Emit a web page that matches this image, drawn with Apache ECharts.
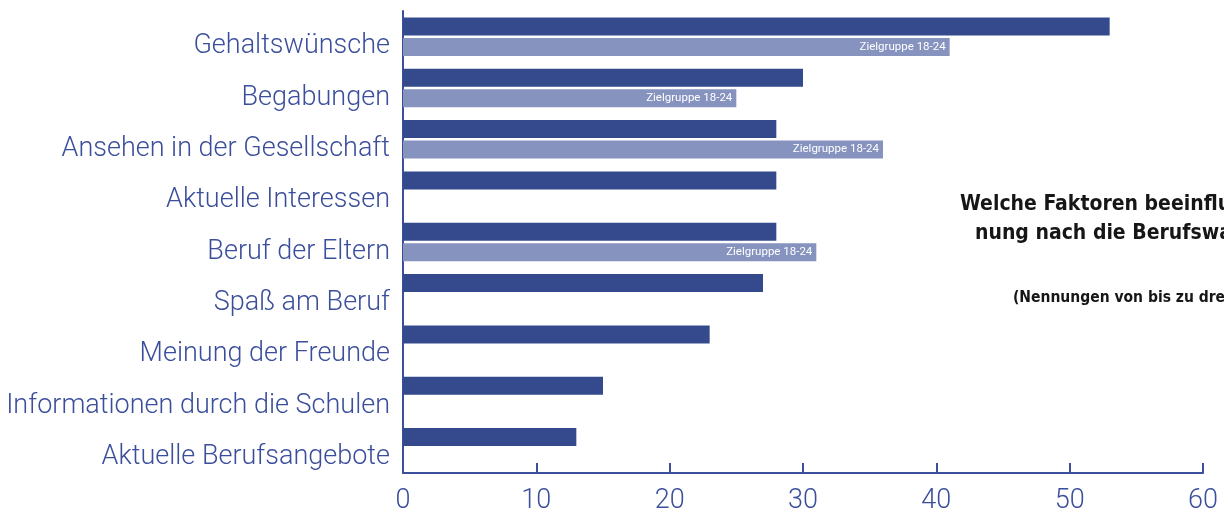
<!DOCTYPE html>
<html>
<head>
<meta charset="utf-8">
<script src="https://cdn.jsdelivr.net/npm/echarts@6/dist/echarts.min.js"></script>
<style>
  html, body { margin: 0; padding: 0; background: #ffffff; }
  #chart { width: 1224px; height: 515px; }
</style>
</head>
<body>
<div id="chart"></div>
<script>
// Faktoren, von oben nach unten
const categories = [
  'Gehaltswünsche',
  'Begabungen',
  'Ansehen in der Gesellschaft',
  'Aktuelle Interessen',
  'Beruf der Eltern',
  'Spaß am Beruf',
  'Meinung der Freunde',
  'Informationen durch die Schulen',
  'Aktuelle Berufsangebote'
];
// Alle Befragten
const allValues = [53, 30, 28, 28, 28, 27, 23, 15, 13];
// Zielgruppe 18-24 (nur wo erhoben)
const youthValues = [41, 25, 36, null, 31, null, null, null, null];
const youthLabel = 'Zielgruppe 18-24';
const xTicks = { min: 0, max: 60, interval: 10 };

const titleLines = [
  'Welche Faktoren beeinflussen Ihre Mei-',
  'nung nach die Berufswahl?'
];
const subtitle = '(Nennungen von bis zu drei Faktoren)';

const DARK = '#354a8d';
const LIGHT = '#8793bf';
const TEXT = '#3a4e9b';
const LABEL_FONT = 'Roboto, "Liberation Sans", sans-serif';
const TITLE_FONT = '"Liberation Sans Narrow", "DejaVu Sans Condensed", sans-serif';

const chart = echarts.init(document.getElementById('chart'), null, { renderer: 'canvas' });

chart.setOption({
  animation: false,
  backgroundColor: '#ffffff',
  grid: { left: 403, right: 21, top: 11, bottom: 39, containLabel: false },
  xAxis: {
    type: 'value',
    min: xTicks.min,
    max: xTicks.max,
    interval: xTicks.interval,
    axisLine: { show: true, lineStyle: { color: TEXT, width: 2 } },
    axisTick: { show: true, inside: true, length: 10, lineStyle: { color: TEXT, width: 2 } },
    splitLine: { show: false },
    axisLabel: {
      color: TEXT, fontFamily: LABEL_FONT, fontWeight: 300, fontSize: 27, margin: 15
    }
  },
  yAxis: {
    type: 'category',
    data: categories,
    inverse: true,
    axisLine: { show: true, lineStyle: { color: TEXT, width: 2 } },
    axisTick: { show: false },
    axisLabel: {
      margin: 13,
      formatter: (v) => '{c|' + v + '}',
      rich: {
        c: {
          color: TEXT, fontFamily: LABEL_FONT, fontWeight: 300, fontSize: 27,
          padding: [20, 0, 0, 0]
        }
      }
    }
  },
  series: [
    {
      name: 'Gesamt',
      type: 'bar',
      data: allValues,
      barWidth: 18,
      barGap: '14%',
      itemStyle: { color: DARK }
    },
    {
      name: youthLabel,
      type: 'bar',
      data: youthValues,
      barWidth: 18,
      itemStyle: { color: LIGHT },
      label: {
        show: true,
        position: 'insideRight',
        distance: 4,
        formatter: youthLabel,
        color: '#ffffff',
        fontFamily: LABEL_FONT,
        fontSize: 11.5
      }
    }
  ],
  graphic: [
    {
      type: 'text', left: 960, top: 194,
      style: { text: titleLines[0], font: 'bold 21px ' + TITLE_FONT, fill: '#161616' }
    },
    {
      type: 'text', left: 975, top: 223,
      style: { text: titleLines[1], font: 'bold 21px ' + TITLE_FONT, fill: '#161616' }
    },
    {
      type: 'text', left: 1013, top: 290,
      style: { text: subtitle, font: 'bold 15.5px ' + TITLE_FONT, fill: '#161616' }
    }
  ]
});
</script>
</body>
</html>
